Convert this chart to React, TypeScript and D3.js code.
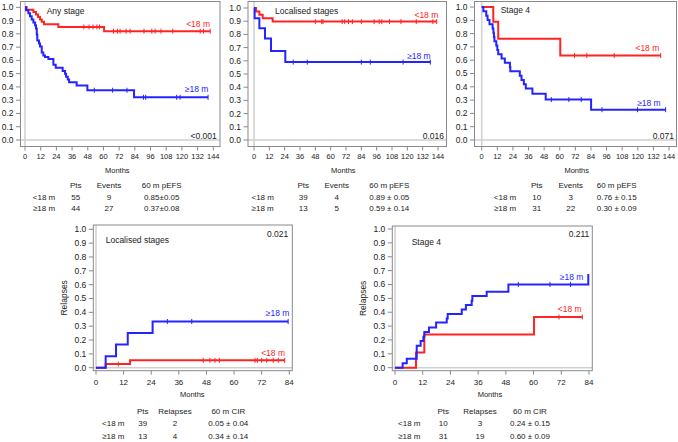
import React from 'react';
import * as d3 from 'd3';

const RED = '#ff2424';
const BLUE = '#2424ff';
const FONT = 'Liberation Sans, Arial, sans-serif';

const groupNames = ['<18 m', '≥18 m'];

// --- event-free survival, any stage
const anyLtTimes = [1.3, 6.4, 8.4, 10, 11.5, 12.8, 14.5, 25.5, 60.5];
const anyLtSurv = [0.982, 0.964, 0.945, 0.927, 0.909, 0.891, 0.873, 0.852, 0.82];
const anyLtCensor = [45, 49, 52, 55, 57, 67.6, 70.7, 72.7, 77.3, 80.4, 91, 97, 99.5, 104, 113, 134, 136.5, 141.6];
const anyGeTimes = [0.8, 2.6, 3.8, 5.1, 6.4, 7.7, 8.4, 9.0, 9.4, 10.7, 11.5, 12.8, 14, 15.3, 17.9, 21.7, 23.5, 28.8, 30.6, 31.4, 32.7, 33.7, 39.5, 47.7, 83.4];
const anyGeSurv = [0.977, 0.955, 0.932, 0.909, 0.886, 0.864, 0.841, 0.795, 0.75, 0.727, 0.705, 0.66, 0.636, 0.625, 0.61, 0.568, 0.545, 0.52, 0.5, 0.477, 0.455, 0.435, 0.41, 0.375, 0.322];
const anyGeCensor = [53, 67, 78, 90.6, 92.3, 116, 118.6, 140];

// --- event-free survival, localised stages
const locLtTimes = [1.6, 4.2, 6.8, 14.6];
const locLtSurv = [0.974, 0.949, 0.923, 0.897];
const locLtCensor = [48, 53, 54, 69, 71, 74, 77, 84, 94, 98, 100, 106, 115, 127, 140, 143];
const locGeTimes = [0.5, 4.2, 8.6, 13.3, 24.5];
const locGeSurv = [0.923, 0.846, 0.769, 0.674, 0.59];
const locGeCensor = [30.7, 41.7, 84, 91, 116.7, 138];

// --- event-free survival, stage 4
const s4LtTimes = [8.9, 12.7, 60.4];
const s4LtSurv = [0.889, 0.762, 0.635];
const s4LtCensor = [71.4, 80.8, 101.9, 137.6];
const s4GeTimes = [1.3, 3.5, 4.5, 6, 8.4, 9, 9.4, 9.8, 11.2, 12, 12.7, 15.3, 17.8, 21.7, 22, 29.3, 30.6, 32.4, 33.9, 39, 49.2, 84.1];
const s4GeSurv = [0.968, 0.935, 0.903, 0.871, 0.839, 0.806, 0.774, 0.742, 0.71, 0.677, 0.645, 0.613, 0.581, 0.548, 0.516, 0.484, 0.452, 0.419, 0.387, 0.348, 0.304, 0.228];
const s4GeCensor = [53.5, 67, 76.5, 92.5, 119.8, 141.4];

// --- cumulative incidence of relapse, localised stages
const rLocGeTimes = [4.2, 8.7, 13.8, 24.6];
const rLocGeCir = [0.083, 0.167, 0.25, 0.334];
const rLocGeCensor = [31, 41.6, 83.5];
const rLocLtTimes = [4.2, 14.8];
const rLocLtCir = [0.026, 0.053];
const rLocLtCensor = [9.7, 46.6, 49.5, 51.7, 53.6, 69.1, 70.1, 72, 74.2, 77, 79.2, 82];

// --- cumulative incidence of relapse, stage 4
const rS4GeTimes = [3.3, 5.1, 9.4, 11.1, 12.3, 12.7, 14.7, 17.8, 22.4, 22.8, 28.9, 30.7, 33.2, 33.5, 39.7, 49.1, 83.7];
const rS4GeCir = [0.032, 0.065, 0.159, 0.192, 0.224, 0.257, 0.29, 0.325, 0.355, 0.387, 0.42, 0.452, 0.483, 0.517, 0.548, 0.6, 0.675];
const rS4GeCensor = [53.4, 67.1, 76];
const rS4LtTimes = [9.1, 12.7, 60.2];
const rS4LtCir = [0.11, 0.24, 0.365];
const rS4LtCensor = [71, 81.1];

// tables
const anyPts = [55, 44], anyEvents = [9, 27], anyPefs = ['0.85±0.05', '0.37±0.08'];
const locPts = [39, 13], locEvents = [4, 5], locPefs = ['0.89 ± 0.05', '0.59 ± 0.14'];
const s4Pts = [10, 31], s4Events = [3, 22], s4Pefs = ['0.76 ± 0.15', '0.30 ± 0.09'];
const rLocPts = [39, 13], rLocRel = [2, 4], rLocCir = ['0.05 ± 0.04', '0.34 ± 0.14'];
const rS4Pts = [10, 31], rS4Rel = [3, 19], rS4Cir = ['0.24 ± 0.15', '0.60 ± 0.09'];

const yTicks = d3.range(0, 11).map(d => d / 10);

// value of a step function at time t
function stepAt(times, vals, start, t) {
  let v = start;
  times.forEach((tt, i) => { if (tt <= t) v = vals[i]; });
  return v;
}

function Panel({ p }) {
  const x = d3.scaleLinear().domain([0, p.xMax]).range(p.xr);
  const y = d3.scaleLinear().domain([0, 1]).range(p.yr);
  const line = d3.line().x(d => x(d[0])).y(d => y(d[1])).curve(d3.curveStepAfter);
  const xTicks = d3.range(0, p.xMax + 1, 12);
  const f = p.frame;

  return (
    <g fontFamily={FONT}>
      {/* zero lines */}
      <line x1={f.l} x2={f.r} y1={y(0)} y2={y(0)} stroke="#cfcfcf" strokeWidth={1.5} />
      <line x1={x(0)} x2={x(0)} y1={f.t} y2={f.b} stroke="#cfcfcf" strokeWidth={1.5} />
      <rect x={f.l} y={f.t} width={f.r - f.l} height={f.b - f.t} fill="none" stroke="#8a8a8a" strokeWidth={1} />

      {yTicks.map(t => (
        <g key={t}>
          <line x1={f.l - 4.5} x2={f.l} y1={y(t)} y2={y(t)} stroke="#8a8a8a" />
          <text x={f.l - 7} y={y(t)} dy="0.35em" textAnchor="end" fontSize={8.5} fill="#222">{t.toFixed(1)}</text>
        </g>
      ))}
      {xTicks.map(t => (
        <g key={t}>
          <line x1={x(t)} x2={x(t)} y1={f.b} y2={f.b + 4} stroke="#8a8a8a" />
          <text x={x(t)} y={p.xLabelY} dy="0.35em" textAnchor="middle" fontSize={p.xFont} fill="#222">{t}</text>
        </g>
      ))}
      <text x={p.monthsX} y={p.monthsY} dy="0.35em" textAnchor="middle" fontSize={7.5} fill="#222">Months</text>
      {p.yLabel && (
        <text transform={`translate(${f.l - 29},${(f.t + f.b) / 2}) rotate(-90)`} dy="0.35em" textAnchor="middle" fontSize={8.5} fill="#222">{p.yLabel}</text>
      )}

      {p.series.map((s, i) => {
        const pts = [[0, p.start], ...s.times.map((t, j) => [t, s.vals[j]]), [s.end, s.vals[s.vals.length - 1]]];
        return (
          <g key={i}>
            <path d={line(pts)} fill="none" stroke={s.color} strokeWidth={2} />
            {s.censor.map((c, k) => {
              const v = stepAt(s.times, s.vals, p.start, c);
              return <line key={k} x1={x(c)} x2={x(c)} y1={y(v) - 2.5} y2={y(v) + 2.5} stroke={s.color} strokeWidth={1} />;
            })}
            <text x={s.labelX} y={s.labelY} dy="0.35em" textAnchor="end" fontSize={8.5} fill={s.color}>{s.name}</text>
          </g>
        );
      })}

      <text x={p.title[0]} y={p.title[1]} dy="0.35em" fontSize={8.5} fill="#222">{p.titleText}</text>
      <text x={p.pv[0]} y={p.pv[1]} dy="0.35em" textAnchor="end" fontSize={8.5} fill="#222">{p.pText}</text>

      {/* table */}
      {p.table.heads.map((h, i) => (
        <text key={h} x={p.table.cols[i + 1]} y={p.table.rows[0]} dy="0.35em" textAnchor="middle" fontSize={8} fill="#222">{h}</text>
      ))}
      {groupNames.map((g, r) => (
        <g key={g}>
          <text x={p.table.cols[0]} y={p.table.rows[r + 1]} dy="0.35em" textAnchor="middle" fontSize={8} fill="#222">{g}</text>
          {p.table.cells.map((col, c) => (
            <text key={c} x={p.table.cols[c + 1]} y={p.table.rows[r + 1]} dy="0.35em" textAnchor="middle" fontSize={8} fill="#222">{col[r]}</text>
          ))}
        </g>
      ))}
    </g>
  );
}

const topRows = [185.5, 197, 208.5];
const botRows = [411, 423.3, 436];
const efsHeads = ['Pts', 'Events', '60 m pEFS'];
const cirHeads = ['Pts', 'Relapses', '60 m CIR'];

const panels = [
  {
    frame: { l: 20.5, r: 220, t: 1.5, b: 146.5 }, xr: [25, 213.3], yr: [140, 7.3], xMax: 144, start: 1,
    xLabelY: 156, xFont: 7.5, monthsX: 117.3, monthsY: 170.7,
    titleText: 'Any stage', title: [46.7, 10.7], pText: '<0.001', pv: [216.7, 136],
    series: [
      { name: groupNames[0], color: RED, times: anyLtTimes, vals: anyLtSurv, censor: anyLtCensor, end: 141.6, labelX: 210, labelY: 24 },
      { name: groupNames[1], color: BLUE, times: anyGeTimes, vals: anyGeSurv, censor: anyGeCensor, end: 140, labelX: 208.3, labelY: 89.5 },
    ],
    table: { heads: efsHeads, cols: [44, 75.7, 109, 161.7], rows: topRows, cells: [anyPts, anyEvents, anyPefs] },
  },
  {
    frame: { l: 248, r: 446.5, t: 1.5, b: 146.5 }, xr: [254, 438], yr: [140, 8], xMax: 144, start: 1,
    xLabelY: 156, xFont: 7.5, monthsX: 343.3, monthsY: 170.7,
    titleText: 'Localised stages', title: [275, 11], pText: '0.016', pv: [444, 136],
    series: [
      { name: groupNames[0], color: RED, times: locLtTimes, vals: locLtSurv, censor: locLtCensor, end: 143, labelX: 438.3, labelY: 15 },
      { name: groupNames[1], color: BLUE, times: locGeTimes, vals: locGeSurv, censor: locGeCensor, end: 138, labelX: 430.7, labelY: 56.2 },
    ],
    table: { heads: efsHeads, cols: [262.7, 303.3, 336.7, 389.3], rows: topRows, cells: [locPts, locEvents, locPefs] },
  },
  {
    frame: { l: 474.5, r: 676.5, t: 1.5, b: 146.5 }, xr: [481.7, 669], yr: [140, 7], xMax: 144, start: 1,
    xLabelY: 156, xFont: 7.5, monthsX: 576.7, monthsY: 170.7,
    titleText: 'Stage 4', title: [500.7, 10], pText: '0.071', pv: [674, 136],
    series: [
      { name: groupNames[0], color: RED, times: s4LtTimes, vals: s4LtSurv, censor: s4LtCensor, end: 137.6, labelX: 659.3, labelY: 48.5 },
      { name: groupNames[1], color: BLUE, times: s4GeTimes, vals: s4GeSurv, censor: s4GeCensor, end: 141.4, labelX: 660.7, labelY: 103 },
    ],
    table: { heads: efsHeads, cols: [505, 536.7, 570.7, 616.7], rows: topRows, cells: [s4Pts, s4Events, s4Pefs] },
  },
  {
    frame: { l: 93.3, r: 292.3, t: 225, b: 370.7 }, xr: [96, 289.3], yr: [367.7, 229.3], xMax: 84, start: 0,
    xLabelY: 381.7, xFont: 8, monthsX: 192.3, monthsY: 394, yLabel: 'Relapses',
    titleText: 'Localised stages', title: [105.7, 240], pText: '0.021', pv: [288.3, 234],
    series: [
      { name: groupNames[0], color: RED, times: rLocLtTimes, vals: rLocLtCir, censor: rLocLtCensor, end: 82, labelX: 285, labelY: 353.5 },
      { name: groupNames[1], color: BLUE, times: rLocGeTimes, vals: rLocGeCir, censor: rLocGeCensor, end: 83.5, labelX: 289.3, labelY: 313 },
    ],
    table: { heads: cirHeads, cols: [113.3, 142.7, 175, 228.3], rows: botRows, cells: [rLocPts, rLocRel, rLocCir] },
  },
  {
    frame: { l: 392.3, r: 592.3, t: 226, b: 370.7 }, xr: [395, 589], yr: [367.7, 229], xMax: 84, start: 0,
    xLabelY: 381.7, xFont: 8, monthsX: 490, monthsY: 394, yLabel: 'Relapses',
    titleText: 'Stage 4', title: [411.7, 242.3], pText: '0.211', pv: [589.3, 234.3],
    series: [
      { name: groupNames[0], color: RED, times: rS4LtTimes, vals: rS4LtCir, censor: rS4LtCensor, end: 81.1, labelX: 581.7, labelY: 309.5 },
      { name: groupNames[1], color: BLUE, times: rS4GeTimes, vals: rS4GeCir, censor: rS4GeCensor, end: 83.7, labelX: 583.3, labelY: 277.5 },
    ],
    table: { heads: cirHeads, cols: [409.3, 443.3, 480, 530], rows: botRows, cells: [rS4Pts, rS4Rel, rS4Cir] },
  },
];

export default function App() {
  return (
    <svg width={678} height={442} style={{ position: 'absolute', left: 0, top: 0, background: '#fff' }}>
      {panels.map((p, i) => <Panel key={i} p={p} />)}
    </svg>
  );
}
